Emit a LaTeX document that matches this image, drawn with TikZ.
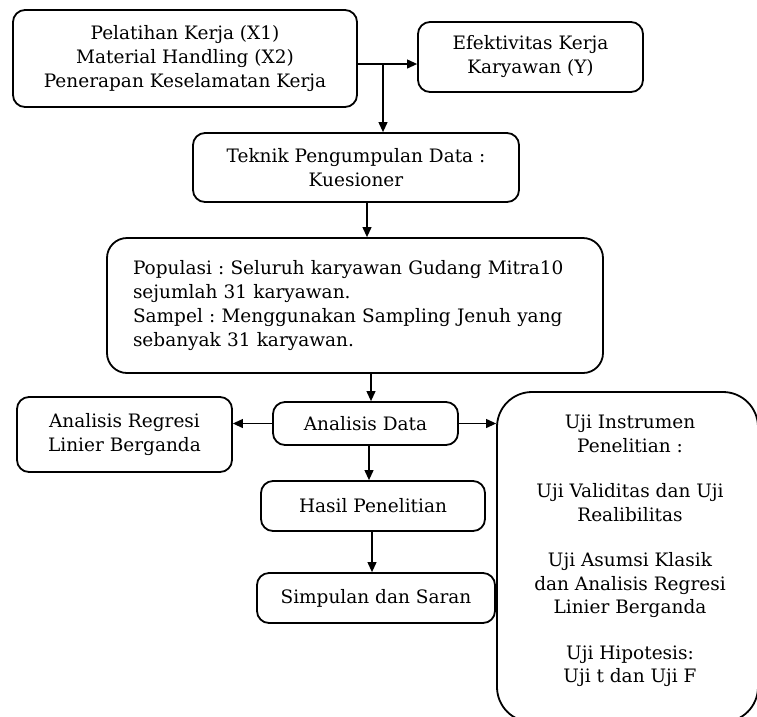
\documentclass[tikz,border=0pt]{standalone}
\usepackage{fontspec}
\setmainfont{DejaVu Serif}
\usetikzlibrary{arrows.meta}
\begin{document}
\frenchspacing
\begin{tikzpicture}[x=1pt,y=-1pt,
  box/.style={draw=black, line width=1.8pt, rounded corners=12pt, inner sep=0pt, align=center,
    font=\fontsize{18.5}{24}\selectfont},
  arr/.style={line width=1.1pt, -{Triangle[length=10pt,width=9pt]}},
  txt/.style={inner sep=0pt, align=center, font=\fontsize{18.5}{23.5}\selectfont}]
\useasboundingbox (0,0) rectangle (757,716);
\clip (0,0) rectangle (757,716);
\node[box, minimum width=344pt, minimum height=97pt] (in1) at (185,58.5)
  {Pelatihan Kerja (X1)\\Material Handling (X2)\\Penerapan Keselamatan Kerja};
\node[box, minimum width=225pt, minimum height=70pt] (eff) at (530.5,57)
  {Efektivitas Kerja\\Karyawan (Y)};
\node[box, minimum width=326pt, minimum height=69pt] (tek) at (356,167.5)
  {Teknik Pengumpulan Data :\\Kuesioner};
\node[box, rounded corners=20pt, minimum width=496pt, minimum height=135pt, text width=460pt,
  inner xsep=18pt, align=left] (pop) at (355,305.5)
  {\hspace*{8pt}Populasi : Seluruh karyawan Gudang Mitra10\\\hspace*{8pt}sejumlah 31 karyawan.\\\hspace*{8pt}Sampel : Menggunakan Sampling Jenuh yang\\\hspace*{8pt}sebanyak 31 karyawan.};
\node[box, minimum width=185pt, minimum height=43pt] (ad) at (365.5,423.5) {Analisis Data};
\node[box, minimum width=215pt, minimum height=75pt] (ar) at (124.5,434.5)
  {Analisis Regresi\\Linier Berganda};
\node[box, minimum width=224pt, minimum height=50pt] (hp) at (373,506) {Hasil Penelitian};
\node[box, minimum width=238pt, minimum height=50pt] (ss) at (376,598) {Simpulan dan Saran};
\node[box, rounded corners=35pt, minimum width=261pt, minimum height=330pt] (uji) at (627.5,557) {};
\node[txt] (ujit) at (630,551)
  {Uji Instrumen\\Penelitian :\\[22pt]Uji Validitas dan Uji\\Realibilitas\\[22pt]Uji Asumsi Klasik\\dan Analisis Regresi\\Linier Berganda\\[22pt]Uji Hipotesis:\\Uji t dan Uji F};
\coordinate (j) at (383,64);
\draw[arr] (in1.east |- j) -- (eff.west |- j);
\draw[arr] (j) -- (j |- tek.north);
\coordinate (c1) at (367,0);
\draw[arr] (c1 |- tek.south) -- (c1 |- pop.north);
\coordinate (c2) at (371,0);
\draw[arr] (c2 |- pop.south) -- (c2 |- ad.north);
\draw[arr] (ad.west) -- (ar.east |- ad.west);
\draw[arr] (ad.east) -- (uji.west |- ad.east);
\coordinate (c3) at (369,0);
\draw[arr] (c3 |- ad.south) -- (c3 |- hp.north);
\coordinate (c4) at (372,0);
\draw[arr] (c4 |- hp.south) -- (c4 |- ss.north);
\end{tikzpicture}
\end{document}
